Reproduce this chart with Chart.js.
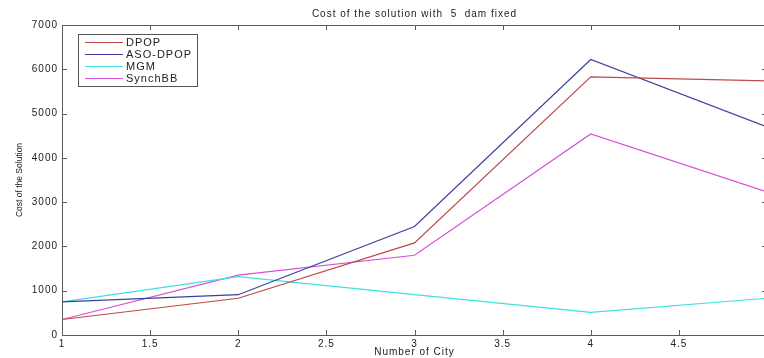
<!DOCTYPE html>
<html>
<head>
<meta charset="utf-8">
<script src="https://cdn.jsdelivr.net/npm/chart.js@4"></script>
<style>
  html, body { margin: 0; padding: 0; background: #fff; overflow: hidden; }
  #wrap { width: 764px; height: 358px; overflow: hidden; }
</style>
</head>
<body>
<div id="wrap"><canvas id="costChart" width="828" height="358"></canvas></div>
<script>
// Number of cities on the x axis
const cities = [1, 2, 3, 4, 5];

// Cost of the solution for each algorithm
const dpop     = [350, 830, 2080, 5830, 5740];
const asoDpop  = [750, 910, 2450, 6220, 4700];
const mgm      = [750, 1320, 910, 510, 830];
const synchBB  = [350, 1350, 1800, 4540, 3230];

const seriesNames  = ['DPOP', 'ASO-DPOP', 'MGM', 'SynchBB'];
const seriesValues = [dpop, asoDpop, mgm, synchBB];
const seriesColors = ['#c04848', '#3f3f9f', '#3fe0e0', '#d84fd8'];

const chartTitle = 'Cost of the solution with  5  dam fixed';
const yTitle = 'Cost of the Solution';

const FONT = '"Liberation Sans", Arial, sans-serif';
const AXIS = '#5a5a5a';

// pair each value with its city count
function toPoints(values) {
    return values.map((v, i) => ({ x: cities[i], y: v }));
}

// wide, loosely spaced lettering for every label on the canvas
const spacedText = {
    id: 'spacedText',
    beforeInit(chart) { chart.ctx.letterSpacing = '1px'; },
    beforeUpdate(chart) { chart.ctx.letterSpacing = '1px'; },
    beforeDraw(chart) { chart.ctx.letterSpacing = '1px'; }
};

// Title centred over the plot area, plus the tight vertical y title
const plotTitles = {
    id: 'plotTitles',
    afterDraw(chart) {
        const { ctx, chartArea: a } = chart;
        ctx.save();
        ctx.font = '10px ' + FONT;
        ctx.fillStyle = '#222';
        ctx.textAlign = 'center';
        ctx.textBaseline = 'middle';
        ctx.fillText(chartTitle, (a.left + a.right) / 2, a.top - 11);

        ctx.letterSpacing = '0px';
        ctx.font = '8.5px ' + FONT;
        ctx.translate(20, (a.top + a.bottom) / 2);
        ctx.rotate(-Math.PI / 2);
        ctx.fillText(yTitle, 0, 0);
        ctx.restore();
    }
};

// Inward tick marks on all four sides plus the top frame line
const frameTicks = {
    id: 'frameTicks',
    afterDraw(chart) {
        const { ctx, chartArea: a, scales: { x, y } } = chart;
        const len = 5;
        ctx.save();
        ctx.strokeStyle = AXIS;
        ctx.lineWidth = 1;
        ctx.beginPath();
        ctx.moveTo(a.left, a.top + 0.5);
        ctx.lineTo(a.right, a.top + 0.5);
        x.ticks.forEach(t => {
            const px = Math.round(x.getPixelForValue(t.value)) + 0.5;
            ctx.moveTo(px, a.bottom);
            ctx.lineTo(px, a.bottom - len);
            ctx.moveTo(px, a.top);
            ctx.lineTo(px, a.top + len);
        });
        y.ticks.forEach(t => {
            const py = Math.round(y.getPixelForValue(t.value)) + 0.5;
            ctx.moveTo(a.left, py);
            ctx.lineTo(a.left + len, py);
            ctx.moveTo(a.right, py);
            ctx.lineTo(a.right - len, py);
        });
        ctx.stroke();
        ctx.restore();
    }
};

// Boxed legend in the upper left corner of the plot
const boxLegend = {
    id: 'boxLegend',
    afterDraw(chart) {
        const { ctx, chartArea: a } = chart;
        const left = a.left + 16, top = a.top + 9;
        const w = 119, rowH = 12;
        const sets = chart.data.datasets;
        ctx.save();
        ctx.fillStyle = '#fff';
        ctx.fillRect(left, top, w, rowH * sets.length + 4);
        ctx.strokeStyle = '#555';
        ctx.lineWidth = 1;
        ctx.strokeRect(left + 0.5, top + 0.5, w, rowH * sets.length + 4);
        ctx.font = '11px ' + FONT;
        ctx.textBaseline = 'middle';
        sets.forEach((ds, i) => {
            const yy = top + 8 + i * rowH;
            ctx.strokeStyle = ds.borderColor;
            ctx.beginPath();
            ctx.moveTo(left + 7, yy + 0.5);
            ctx.lineTo(left + 45, yy + 0.5);
            ctx.stroke();
            ctx.fillStyle = '#222';
            ctx.fillText(ds.label, left + 48, yy + 1);
        });
        ctx.restore();
    }
};

new Chart(document.getElementById('costChart'), {
    type: 'line',
    data: {
        datasets: seriesNames.map((name, i) => ({
            label: name,
            data: toPoints(seriesValues[i]),
            borderColor: seriesColors[i],
            backgroundColor: seriesColors[i],
            borderWidth: 1.2,
            pointRadius: 0,
            tension: 0,
            fill: false
        }))
    },
    options: {
        responsive: false,
        animation: false,
        devicePixelRatio: 1,
        layout: { padding: { left: 0, right: 61, top: 25, bottom: 0 } },
        plugins: {
            legend: { display: false },
            tooltip: { enabled: false },
            title: { display: false }
        },
        scales: {
            x: {
                type: 'linear',
                min: 1,
                max: 5,
                grid: { drawOnChartArea: false, drawTicks: false },
                border: { color: AXIS, width: 1 },
                ticks: {
                    stepSize: 0.5,
                    padding: 3,
                    color: '#222',
                    maxRotation: 0,
                    font: { family: FONT, size: 10 },
                    callback: v => String(v)
                },
                title: {
                    display: true,
                    text: 'Number of City',
                    color: '#222',
                    font: { family: FONT, size: 10 },
                    padding: { top: 0, bottom: 0 }
                },
                afterFit(scale) { scale.height = 23; }
            },
            y: {
                min: 0,
                max: 7000,
                grid: { drawOnChartArea: false, drawTicks: false },
                border: { color: AXIS, width: 1 },
                ticks: {
                    stepSize: 1000,
                    padding: 4,
                    color: '#222',
                    font: { family: FONT, size: 10 },
                    callback: v => String(v)
                },
                afterFit(scale) { scale.width = 62; }
            }
        }
    },
    plugins: [spacedText, frameTicks, boxLegend, plotTitles]
});
</script>
</body>
</html>
